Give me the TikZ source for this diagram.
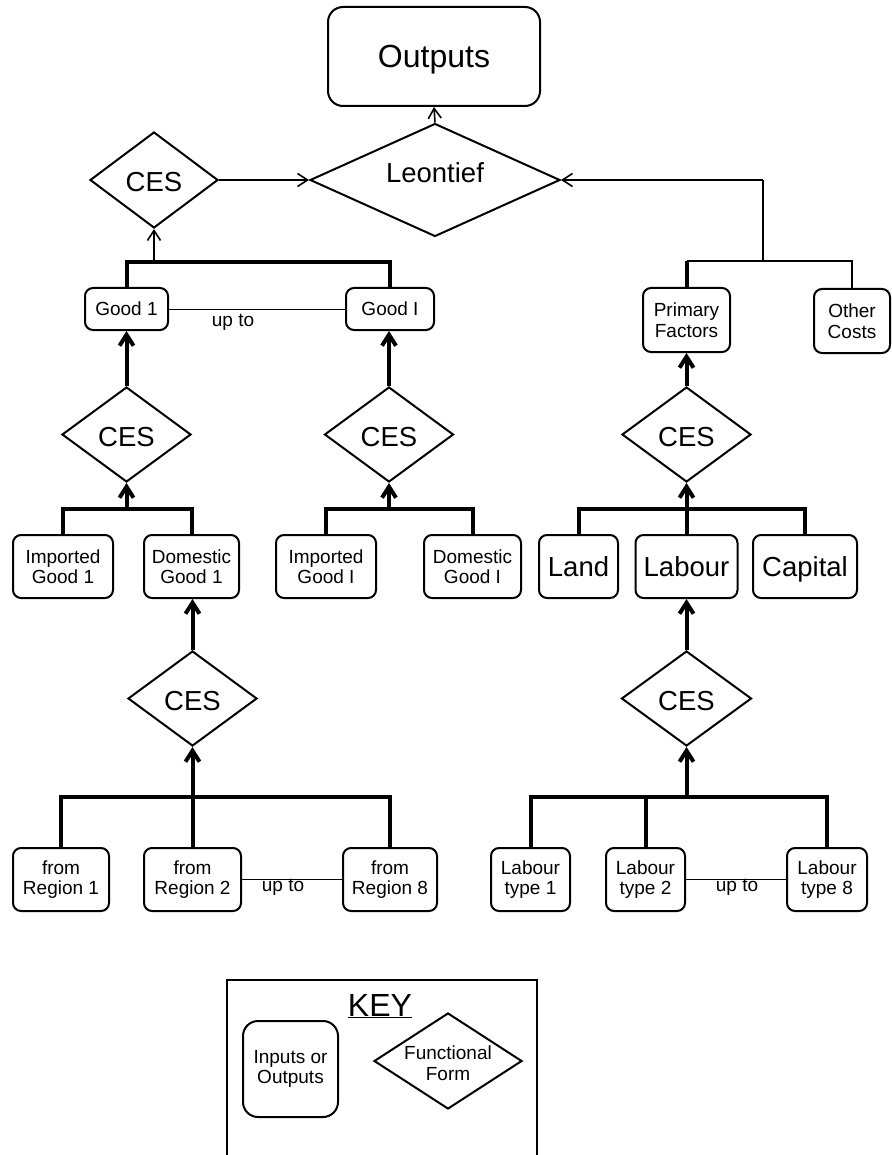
\documentclass[tikz,border=0pt]{standalone}
\usepackage{fontspec}
\setmainfont{Liberation Sans}
\usetikzlibrary{shapes.geometric,arrows.meta}
\newcommand\ftsmall{\fontsize{19}{20.5}\selectfont}
\newcommand\ftmid{\fontsize{27.5}{30}\selectfont}
\newcommand\ftbig{\fontsize{32}{36}\selectfont}
\begin{document}
\begin{tikzpicture}[x=1pt,y=-1pt,
  box/.style={draw,line width=2pt,rounded corners=8pt,inner sep=0pt,align=center,font=\ftsmall},
  bigbox/.style={box,font=\ftmid,text height=20pt,text depth=0pt},
  fform/.style={draw,diamond,line width=2pt,inner sep=0pt},
  lbl/.style={inner sep=0pt,align=center},
  thickline/.style={line width=4pt},
  thinline/.style={line width=1.6pt},
  hairline/.style={line width=1pt},
  thickarrow/.style={line width=4pt,-{Straight Barb[length=11pt,width=14pt]}},
  thinarrow/.style={line width=1.6pt,-{Straight Barb[length=10pt,width=13pt]}},
]
\useasboundingbox (0,0) rectangle (891,1155);

% ---------- top ----------
\node[box,rounded corners=15pt,font=\ftbig,text height=23pt,text depth=0pt,minimum width=212pt,minimum height=99pt] (out) at (434,56.5) {Outputs};
\node[fform,minimum width=250pt,minimum height=113pt] (leo) at (435,180) {};
\node[lbl,font=\ftmid] (leoT) at (435,173) {Leontief};
\node[fform,minimum width=128pt,minimum height=96pt] (cesT) at (154,180) {};
\node[lbl,font=\ftmid] (cesTt) at (154,182) {CES};

\draw[thinarrow] (leo.north) -- (out.south);
\draw[thinarrow] (cesT.east) -- (leo.west);

% right top feed
\coordinate (jR) at (763,180);
\coordinate (jRb) at (763,261);
\node[box,minimum width=87pt,minimum height=64pt] (pf) at (686.5,320) {Primary\\Factors};
\node[box,minimum width=76pt,minimum height=64pt] (oc) at (852,321) {Other\\Costs};
\draw[thinarrow] (jR) -- (leo.east);
\draw[thinline] (jR) -- (jRb);
\draw[thinline] (pf.north |- jRb) -- (oc.north |- jRb) -- (oc.north);
\draw[thickline] (pf.north) -- (pf.north |- jRb);

% ---------- goods ----------
\node[box,minimum width=83pt,minimum height=42pt] (g1) at (126.5,309) {Good 1};
\node[box,minimum width=88pt,minimum height=42pt] (gI) at (390,309) {Good I};
\coordinate (busA) at (258,262);
\draw[thickline] (g1.north) |- (busA) -| (gI.north);
\draw[thinarrow] (cesT.south |- busA) -- (cesT.south);
\draw[hairline] (g1.east) -- (gI.west);
\node[lbl,font=\ftsmall] (upto1) at (233,322) {up to};

\node[fform,minimum width=129pt,minimum height=95pt] (cesA) at (126.5,434.5) {};
\node[lbl,font=\ftmid] (cesAt) at (126.5,437) {CES};
\node[fform,minimum width=129pt,minimum height=95pt] (cesB) at (389,434.5) {};
\node[lbl,font=\ftmid] (cesBt) at (389,437) {CES};
\draw[thickarrow] (cesA.north) -- (g1.south);
\draw[thickarrow] (cesB.north) -- (cesB.north |- gI.south);

\node[box,minimum width=100pt,minimum height=63pt] (imp1) at (63,566.5) {Imported\\Good 1};
\node[box,minimum width=95pt,minimum height=63pt] (dom1) at (191.5,566.5) {Domestic\\Good 1};
\node[box,minimum width=100pt,minimum height=63pt] (impI) at (326,566.5) {Imported\\Good I};
\node[box,minimum width=97pt,minimum height=63pt] (domI) at (472.5,566.5) {Domestic\\Good I};
\coordinate (busB) at (126.5,509);
\coordinate (busC) at (389,509);
\draw[thickline] (imp1.north) |- (busB) -| (dom1.north);
\draw[thickarrow] (busB) -- (cesA.south);
\draw[thickline] (impI.north) |- (busC) -| (domI.north);
\draw[thickarrow] (busC) -- (cesB.south);

\node[fform,minimum width=129pt,minimum height=95pt] (cesC) at (192.5,698.5) {};
\node[lbl,font=\ftmid] (cesCt) at (192.5,701) {CES};
\draw[thickarrow] (cesC.north) -- (cesC.north |- dom1.south);

\node[box,minimum width=96pt,minimum height=63pt] (r1) at (61,879.5) {from\\Region 1};
\node[box,minimum width=97pt,minimum height=63pt] (r2) at (192.5,879.5) {from\\Region 2};
\node[box,minimum width=94pt,minimum height=63pt] (r8) at (390,879.5) {from\\Region 8};
\coordinate (busD) at (192.5,797);
\draw[thickline] (r1.north) |- (busD) -| (r8.north);
\draw[thickline] (r2.north) -- (busD);
\draw[thickarrow] (busD) -- (cesC.south);
\draw[hairline] (r2.east) -- (r8.west);
\node[lbl,font=\ftsmall] (upto2) at (283,887) {up to};

% ---------- factors ----------
\node[fform,minimum width=129pt,minimum height=95pt] (cesD) at (686.5,434.5) {};
\node[lbl,font=\ftmid] (cesDt) at (686.5,437) {CES};
\draw[thickarrow] (cesD.north) -- (pf.south);

\node[bigbox,minimum width=79pt,minimum height=63pt] (land) at (578.5,566.5) {Land};
\node[bigbox,minimum width=102pt,minimum height=63pt] (lab) at (686.5,566.5) {Labour};
\node[bigbox,minimum width=104pt,minimum height=63pt] (cap) at (805,566.5) {Capital};
\coordinate (busE) at (686.5,509);
\draw[thickline] (land.north) |- (busE) -| (cap.north);
\draw[thickarrow] (lab.north) -- (cesD.south);

\node[fform,minimum width=130pt,minimum height=95pt] (cesE) at (686.5,698.5) {};
\node[lbl,font=\ftmid] (cesEt) at (686.5,701) {CES};
\draw[thickarrow] (cesE.north) -- (lab.south);

\node[box,minimum width=79pt,minimum height=63pt] (lt1) at (530.5,879.5) {Labour\\type 1};
\node[box,minimum width=79pt,minimum height=63pt] (lt2) at (645.5,879.5) {Labour\\type 2};
\node[box,minimum width=80pt,minimum height=63pt] (lt8) at (827,879.5) {Labour\\type 8};
\coordinate (busF) at (686.5,797);
\draw[thickline] (lt1.north) |- (busF) -| (lt8.north);
\draw[thickline] (lt2.north) -- (lt2.north |- busF);
\draw[thickarrow] (busF) -- (cesE.south);
\draw[hairline] (lt2.east) -- (lt8.west);
\node[lbl,font=\ftsmall] (upto3) at (737,887) {up to};

% ---------- key ----------
\coordinate (kbl) at (227,1155);
\coordinate (ktr) at (537,980);
\draw[line width=2.2pt] (kbl) |- (ktr) -- (ktr |- kbl);
\node[lbl,font=\ftbig,anchor=base] (keyT) at (380,1016) {\underline{KEY}};
\node[box,rounded corners=15pt,minimum width=95pt,minimum height=96pt] (kio) at (290.5,1069) {Inputs or\\Outputs};
\node[fform,minimum width=148pt,minimum height=96pt] (kff) at (448,1061) {};
\node[lbl,font=\ftsmall] (kffT) at (448,1063) {Functional\\Form};
\end{tikzpicture}
\end{document}
